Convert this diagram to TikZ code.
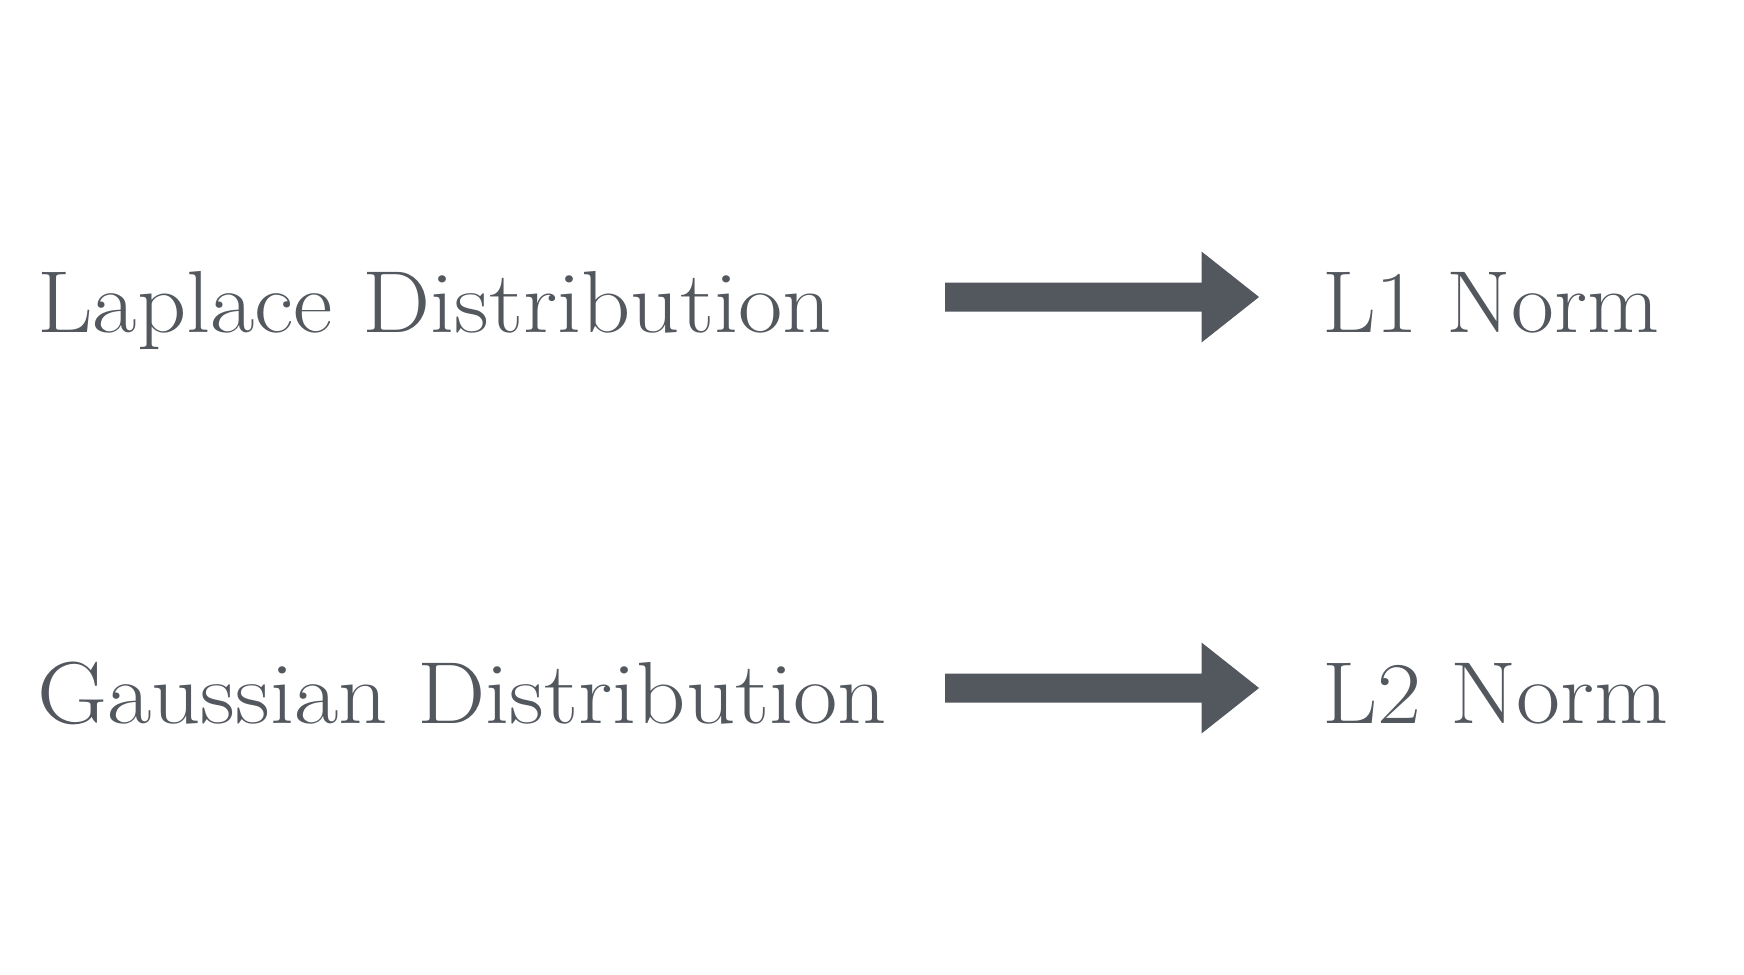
\documentclass[tikz,border=0pt]{standalone}
\usepackage{fontspec}
\usetikzlibrary{calc}
\definecolor{ink}{RGB}{83,87,94}
\begin{document}
\begin{tikzpicture}[x=1pt,y=-1pt,
  lbl/.style={anchor=base west, inner sep=0pt, text=ink, font=\fontsize{88}{100}\selectfont},
  blockarrow/.style={fill=ink}]
\fill[white] (0,0) rectangle (1744,974);
\useasboundingbox (0,0) rectangle (1744,974);
\node[lbl] (lap) at (37,332) {\scalebox{1.096}[1]{Laplace Distribution}};
\node[lbl] (lone) at (1322,332) {\scalebox{1.06}[1]{L1 Norm}};
\node[lbl] (gau) at (37,723) {\scalebox{1.097}[1]{Gaussian Distribution}};
\node[lbl] (ltwo) at (1322,723) {\scalebox{1.089}[1]{L2 Norm}};
\coordinate (a1s) at (945,297);
\coordinate (a1e) at (1259,297);
\coordinate (a2s) at (945,688);
\coordinate (a2e) at (1259,688);
\foreach \s/\e in {a1s/a1e,a2s/a2e}{
  \fill[blockarrow] ($(\s)+(0,-14.5)$) -- ($(\e)+(-57.5,-14.5)$) -- ($(\e)+(-57.5,-45.5)$) -- (\e)
    -- ($(\e)+(-57.5,45.5)$) -- ($(\e)+(-57.5,14.5)$) -- ($(\s)+(0,14.5)$) -- cycle;
}
\end{tikzpicture}
\end{document}
